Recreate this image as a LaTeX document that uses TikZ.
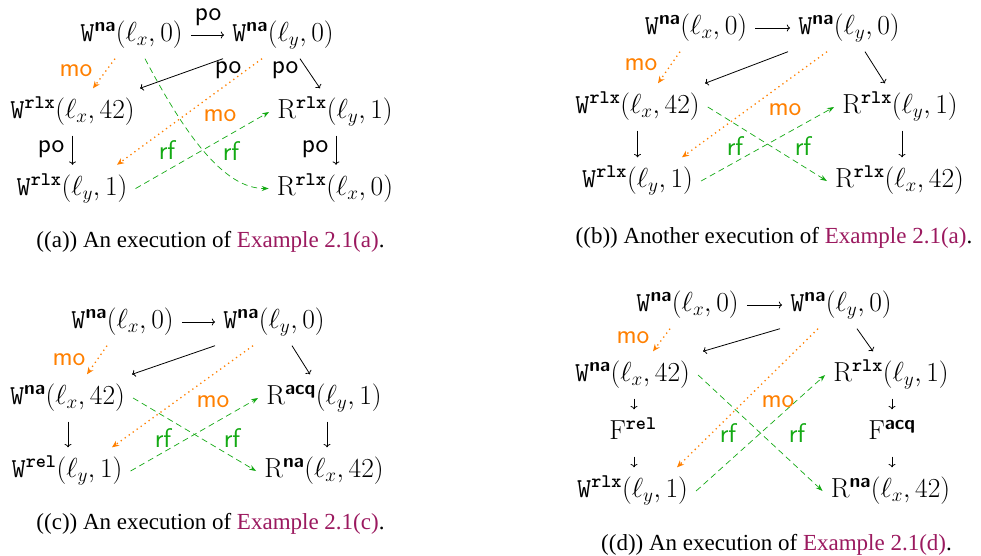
\RequirePackage{fix-cm}
\documentclass[tikz,border=0pt]{standalone}
\usepackage{amsmath}
\usepackage{fontspec}
\newfontfamily\capfont{Liberation Serif}
\usetikzlibrary{arrows.meta}
\definecolor{linkc}{RGB}{155,25,95}
\definecolor{moc}{RGB}{255,128,0}
\definecolor{rfc}{RGB}{20,170,20}
\newcommand\evfont{\fontsize{27.5}{32}\selectfont}
\newcommand\lbfont{\fontsize{27}{32}\selectfont}
\newcommand\evW[1]{\texttt{W}^{\textsf{\textbf{#1}}}}
\newcommand\evWt[1]{\texttt{W}^{\texttt{\textbf{#1}}}}
\newcommand\evR[1]{\mathrm{R}^{\textsf{\textbf{#1}}}}
\newcommand\evRt[1]{\mathrm{R}^{\texttt{\textbf{#1}}}}
\newcommand\evF[1]{\mathrm{F}^{\textsf{\textbf{#1}}}}
\newcommand\evFt[1]{\mathrm{F}^{\texttt{\textbf{#1}}}}
\begin{document}
\begin{tikzpicture}[x=1pt,y=-1pt,
  ev/.style={inner xsep=8pt,inner ysep=10pt,text height=20pt,text depth=7pt,font=\evfont},
  lbl/.style={inner sep=0pt,font=\lbfont\sffamily},
  molbl/.style={lbl,text=moc},
  rflbl/.style={lbl,text=rfc},
  captext/.style={inner sep=0pt,font=\capfont\fontsize{23}{28}\selectfont},
  po/.style={->,line width=0.8pt},
  mo/.style={draw=moc,line width=1.3pt,dash pattern=on 1.3pt off 3.6pt,-{Stealth[length=7pt,width=6pt]}},
  rf/.style={draw=rfc,line width=0.7pt,dash pattern=on 6pt off 4pt,-{Stealth[length=7pt,width=5pt]}}]
\useasboundingbox (0,0) rectangle (981,555);
\fill[white] (0,0) rectangle (981,555);
% ---------- panel (a)
\node[ev] (a1) at (131.5,35) {$\evW{na}(\ell_x,0)$};
\node[ev] (a2) at (283,35) {$\evW{na}(\ell_y,0)$};
\node[ev] (a3) at (72.5,112) {$\evWt{rlx}(\ell_x,42)$};
\node[ev] (a4) at (335,112) {$\evRt{rlx}(\ell_y,1)$};
\node[ev] (a5) at (72,188.5) {$\evWt{rlx}(\ell_y,1)$};
\node[ev] (a6) at (335,188.5) {$\evRt{rlx}(\ell_x,0)$};
\draw[po] (a1.east) -- (a2.west);
\draw[po] ([xshift=-60pt]a2.south) -- ([xshift=67.5pt]a3.north);
\draw[po] ([xshift=17pt]a2.south) -- ([xshift=-15pt]a4.north);
\draw[po] (a3.south) -- (a3.south |- a5.north);
\draw[po] ([xshift=1pt]a4.south) -- ([xshift=1pt]a4.south |- a6.north);
\draw[mo] ([xshift=-16.5pt]a1.south) -- ([xshift=20.5pt]a3.north);
\draw[mo] ([xshift=-21pt]a2.south) -- ([xshift=45pt]a5.north);
\draw[rf] ([xshift=13.5pt]a1.south) .. controls +(40,76) and +(-45,0) .. (a6.west);
\draw[rf] (a5.east) -- (a4.west);
\node[lbl] (la1) at (208,17.5) {po};
\node[lbl] (la2) at (228,70) {po};
\node[lbl] (la3) at (285,70) {po};
\node[lbl] (la4) at (51,149) {po};
\node[lbl] (la5) at (315,149) {po};
\node[molbl] (la6) at (76,71) {mo};
\node[molbl] (la7) at (220,116) {mo};
\node[rflbl] (la8) at (231,151) {rf};
\node[rflbl] (la9) at (167,150) {rf};
\node[captext] (capa) at (210.5,242) {((a)) An execution of \textcolor{linkc}{Example 2.1(a)}.};
% ---------- panel (b)
\node[ev] (b1) at (696,28) {$\evW{na}(\ell_x,0)$};
\node[ev] (b2) at (849,28) {$\evW{na}(\ell_y,0)$};
\node[ev] (b3) at (637.5,107) {$\evWt{rlx}(\ell_x,42)$};
\node[ev] (b4) at (900,107) {$\evRt{rlx}(\ell_y,1)$};
\node[ev] (b5) at (637.5,181) {$\evWt{rlx}(\ell_y,1)$};
\node[ev] (b6) at (899.5,181) {$\evRt{rlx}(\ell_x,42)$};
\draw[po] (b1.east) -- (b2.west);
\draw[po] ([xshift=-61pt]b2.south) -- ([xshift=67.5pt]b3.north);
\draw[po] ([xshift=16pt]b2.south) -- ([xshift=-15pt]b4.north);
\draw[po] (b3.south) -- (b3.south |- b5.north);
\draw[po] ([xshift=2pt]b4.south) -- ([xshift=2pt]b4.south |- b6.north);
\draw[mo] ([xshift=-16pt]b1.south) -- ([xshift=20.5pt]b3.north);
\draw[mo] ([xshift=-22pt]b2.south) -- ([xshift=44.5pt]b5.north);
\draw[rf] (b3.east) -- (b6.west);
\draw[rf] (b5.east) -- (b4.west);
\node[molbl] (lb1) at (641,65) {mo};
\node[molbl] (lb2) at (785,110) {mo};
\node[rflbl] (lb3) at (803,146) {rf};
\node[rflbl] (lb4) at (735,146) {rf};
\node[captext] (capb) at (774,238) {((b)) Another execution of \textcolor{linkc}{Example 2.1(a)}.};
% ---------- panel (c)
\node[ev] (c1) at (122.5,322) {$\evW{na}(\ell_x,0)$};
\node[ev] (c2) at (274,322) {$\evW{na}(\ell_y,0)$};
\node[ev] (c3) at (67.5,398) {$\evW{na}(\ell_x,42)$};
\node[ev] (c4) at (324,398) {$\evR{acq}(\ell_y,1)$};
\node[ev] (c5) at (67,471) {$\evWt{rel}(\ell_y,1)$};
\node[ev] (c6) at (324,471) {$\evR{na}(\ell_x,42)$};
\draw[po] (c1.east) -- (c2.west);
\draw[po] ([xshift=-59pt]c2.south) -- ([xshift=64.5pt]c3.north);
\draw[po] ([xshift=18pt]c2.south) -- ([xshift=-14pt]c4.north);
\draw[po] ([xshift=0.5pt]c3.south) -- ([xshift=0.5pt]c3.south |- c5.north);
\draw[po] ([xshift=3pt]c4.south) -- ([xshift=3pt]c4.south |- c6.north);
\draw[mo] ([xshift=-15.5pt]c1.south) -- ([xshift=19.5pt]c3.north);
\draw[mo] ([xshift=-21pt]c2.south) -- ([xshift=45pt]c5.north);
\draw[rf] (c3.east) -- (c6.west);
\draw[rf] (c5.east) -- (c4.west);
\node[molbl] (lc1) at (69,360) {mo};
\node[molbl] (lc2) at (213,402) {mo};
\node[rflbl] (lc3) at (232,438) {rf};
\node[rflbl] (lc4) at (163,438) {rf};
\node[captext] (capc) at (210.5,523.5) {((c)) An execution of \textcolor{linkc}{Example 2.1(c)}.};
% ---------- panel (d)
\node[ev] (d1) at (687.5,305) {$\evW{na}(\ell_x,0)$};
\node[ev] (d2) at (841,305) {$\evW{na}(\ell_y,0)$};
\node[ev] (d3) at (632.5,375) {$\evW{na}(\ell_x,42)$};
\node[ev] (d4) at (891,375) {$\evRt{rlx}(\ell_y,1)$};
\node[ev] (df1) at (633,433) {$\evFt{rel}$};
\node[ev] (df2) at (892,433) {$\evF{acq}$};
\node[ev] (d5) at (632.5,491) {$\evWt{rlx}(\ell_y,1)$};
\node[ev] (d6) at (890.5,491) {$\evR{na}(\ell_x,42)$};
\draw[po] (d1.east) -- (d2.west);
\draw[po] ([xshift=-61pt]d2.south) -- ([xshift=70.5pt]d3.north);
\draw[po] ([xshift=16pt]d2.south) -- ([xshift=-18pt]d4.north);
\draw[po] ([xshift=1.5pt]d3.south) -- ([xshift=1pt]df1.north);
\draw[po] ([xshift=1pt]df1.south) -- ([xshift=1pt]df1.south |- d5.north);
\draw[po] ([xshift=1pt]d4.south) -- (df2.north);
\draw[po] (df2.south) -- (df2.south |- d6.north);
\draw[mo] ([xshift=-17.5pt]d1.south) -- ([xshift=20.5pt]d3.north);
\draw[mo] ([xshift=-23pt]d2.south) -- ([xshift=44.5pt]d5.north);
\draw[rf] (d3.east) -- (d6.west);
\draw[rf] (d5.east) -- (d4.west);
\node[molbl] (ld1) at (633,338) {mo};
\node[molbl] (ld2) at (778,402) {mo};
\node[rflbl] (ld3) at (797,433) {rf};
\node[rflbl] (ld4) at (728,433) {rf};
\node[captext] (capd) at (776.5,545) {((d)) An execution of \textcolor{linkc}{Example 2.1(d)}.};
\end{tikzpicture}
\end{document}
